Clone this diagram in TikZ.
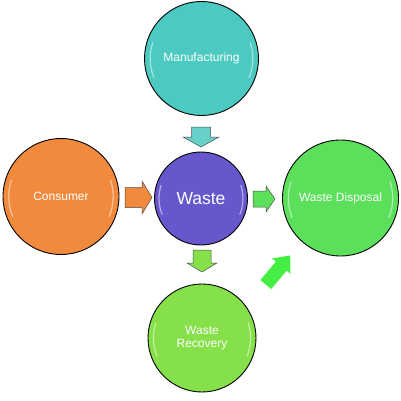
\documentclass[tikz,border=0pt]{standalone}
\usepackage{fontspec}
\setmainfont{Liberation Sans}
\definecolor{cteal}{HTML}{4CC9C0}
\definecolor{corange}{HTML}{F28A3E}
\definecolor{cpurple}{HTML}{6657CC}
\definecolor{cgreen}{HTML}{5CE05C}
\definecolor{clime}{HTML}{86E04A}
\definecolor{carrowgreen}{HTML}{44EE44}
\newcommand\myarrow[9]{% name, cx, cy, angle, length, headwidth, shaftwidth, headlength, style
  \begin{scope}[shift={(#2,#3)},rotate=#4]
    \coordinate (#1) at (0,0);
    \path[#9] ({-#5/2},{-#7/2}) -- ({#5/2-#8},{-#7/2}) -- ({#5/2-#8},{-#6/2}) -- ({#5/2},0)
      -- ({#5/2-#8},{#6/2}) -- ({#5/2-#8},{#7/2}) -- ({-#5/2},{#7/2}) -- cycle;
  \end{scope}}
\tikzset{
  x=1pt, y=1pt,
  ball/.style={circle, draw=black, line width=0.9pt, text=white, align=center, inner sep=0pt},
  shine/.style={white, opacity=0.5, line width=1.2pt, line cap=round},
  barrowstyle/.style={draw=black!70, line width=0.5pt},
}
\newcommand\shinyball[6]{% name, x, y, r, color, text
  \node[ball, fill=#5, minimum size={2*#4 pt}, font=\fontsize{12}{13.5}\selectfont] (#1) at (#2,#3) {#6};
  \draw[shine] ($(#1.center)+(162:{0.9*#4})$) arc[start angle=162, end angle=202, radius={0.9*#4}];
  \draw[shine] ($(#1.center)+(-22:{0.9*#4})$) arc[start angle=-22, end angle=18, radius={0.9*#4}];
}
\usetikzlibrary{calc}
\begin{document}
\begin{tikzpicture}
\useasboundingbox (0,0) rectangle (401,-401);
\fill[white] (0,0) rectangle (401,-401);
\shinyball{manu}{201.5}{-58.5}{57}{cteal}{Manufacturing}
\shinyball{cons}{61}{-196.5}{58}{corange}{Consumer}
\shinyball{disp}{340.5}{-198}{58}{cgreen}{Waste Disposal}
\shinyball{reco}{202}{-338}{54}{clime}{Waste\\Recovery}
\node[ball, fill=cpurple, minimum size=93pt, font=\fontsize{17.5}{19}\selectfont] (waste) at (201,-198.5) {Waste};
\draw[shine] ($(waste.center)+(162:42)$) arc[start angle=162, end angle=202, radius=42];
\draw[shine] ($(waste.center)+(-22:42)$) arc[start angle=-22, end angle=18, radius=42];
\myarrow{a1}{201}{-137}{-90}{20}{36}{19}{10}{barrowstyle, fill=cteal!85!white}
\myarrow{a2}{138.5}{-197.5}{0}{27}{33}{20}{10}{barrowstyle, fill=corange}
\myarrow{a3}{264}{-199}{0}{22}{26}{16}{9}{barrowstyle, fill=cgreen}
\myarrow{a4}{202}{-261}{-90}{22}{30}{18}{9}{barrowstyle, fill=clime}
\myarrow{a5}{278}{-270}{50}{38}{24}{14}{14}{fill=carrowgreen}
\end{tikzpicture}
\end{document}
